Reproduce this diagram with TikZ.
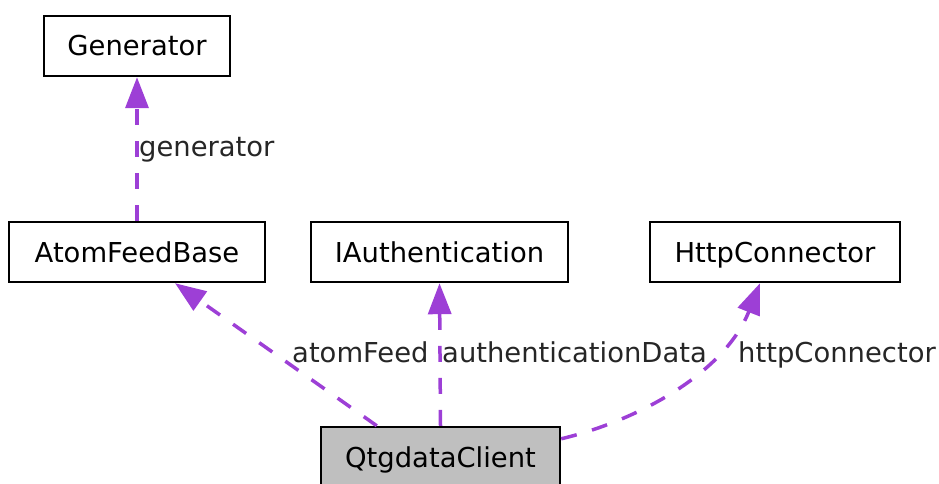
\documentclass[tikz,border=0pt]{standalone}
\usepackage{fontspec}
\setmainfont{DejaVu Sans}
\usetikzlibrary{arrows.meta}

\definecolor{usecolor}{HTML}{9D3FD6}
\definecolor{classgray}{HTML}{BFBFBF}

\begin{document}
\begin{tikzpicture}[x=1pt, y=-1pt,
    every node/.style={font=\fontsize{27.4}{32}\selectfont},
    classbox/.style={draw, line width=2.4pt, fill=white, inner sep=0pt, minimum height=60pt, text height=20pt, text depth=0pt},
    uses/.style={draw=usecolor, line width=3.5pt, dash pattern=on 16pt off 16pt, -{Triangle[length=31pt, width=23pt, fill=usecolor]}},
    rolename/.style={anchor=base west, inner sep=0pt, text=black!85}]

    \useasboundingbox (0,0) rectangle (939,484); % page size

    % Classes
    \node[classbox, minimum width=186pt] (gen) at (137,46) {Generator};
    \node[classbox, minimum width=256pt] (atom) at (137,252) {AtomFeedBase};
    \node[classbox, minimum width=257pt] (auth) at (439.5,252) {IAuthentication};
    \node[classbox, minimum width=250pt] (http) at (775,252) {HttpConnector};
    \node[classbox, minimum width=239pt, minimum height=60pt, fill=classgray] (client) at (440.5,457) {QtgdataClient};

    % Usage relations
    \draw[uses] (atom.north) -- (gen.south);
    \draw[uses] ([xshift=57pt]client.north west) -- ([xshift=38pt]atom.south);
    \draw[uses] (client.north) -- (auth.south);
    \draw[uses] ([yshift=-13pt]client.north east) .. controls (640,420) and (725,372) .. ([xshift=-15pt]http.south);

    % Role names
    \node[rolename] (lgen) at (139,156) {generator};
    \node[rolename] (latom) at (292,362) {atomFeed};
    \node[rolename] (lauth) at (442,362) {authenticationData};
    \node[rolename] (lhttp) at (738,362) {httpConnector};

\end{tikzpicture}
\end{document}
